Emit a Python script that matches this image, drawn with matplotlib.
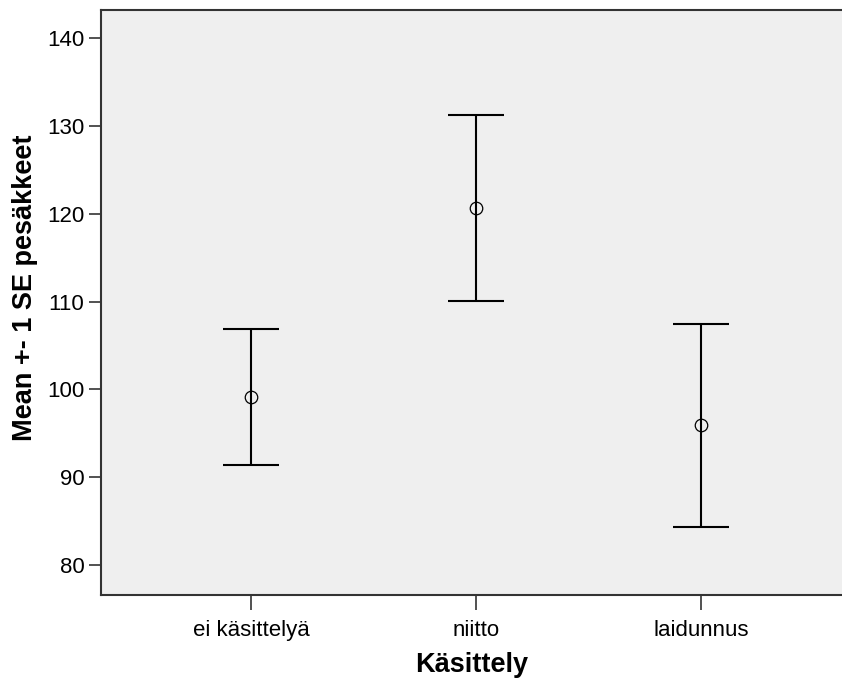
import numpy as np
import matplotlib
matplotlib.use("Agg")
import matplotlib.pyplot as plt

plt.rcParams['font.family'] = ['Liberation Sans', 'DejaVu Sans']

# data
categories = ["ei käsittelyä", "niitto", "laidunnus"]
means = [99.1, 120.7, 95.9]
se = [7.75, 10.6, 11.55]
y_ticks = [80, 90, 100, 110, 120, 130, 140]

fig = plt.figure(figsize=(8.42, 6.82), dpi=100)
ax = fig.add_axes([0.12, 0.1276, 0.88, 0.8577])
ax.set_facecolor("#efefef")

x = np.arange(len(categories))
ax.errorbar(x, means, yerr=se, fmt="none", ecolor="black",
            elinewidth=1.5, capsize=20, capthick=1.5)
ax.plot(x, means, linestyle="none", marker="o", markersize=9,
        markerfacecolor="none", markeredgecolor="black", markeredgewidth=0.9)

ax.set_xlim(-0.666, 2.624)
ax.set_ylim(76.58, 143.22)
ax.set_xticks(x)
ax.set_xticklabels(categories)
ax.set_yticks(y_ticks)

ax.spines["right"].set_visible(False)
for s in ["left", "top", "bottom"]:
    ax.spines[s].set_color("#333333")
    ax.spines[s].set_linewidth(1.5)

ax.tick_params(axis="y", length=9, width=1.2, color="#333333", pad=3, labelsize=16)
ax.tick_params(axis="x", length=11, width=1.2, color="#333333", pad=7, labelsize=16)

ax.set_xlabel("Käsittely", fontsize=19.5, fontweight="bold", labelpad=8)
ax.set_ylabel("Mean +- 1 SE pesäkkeet", fontsize=19.5, fontweight="bold")
ax.yaxis.set_label_coords(-0.085, 0.525)

fig.savefig("out.png", dpi=100)
